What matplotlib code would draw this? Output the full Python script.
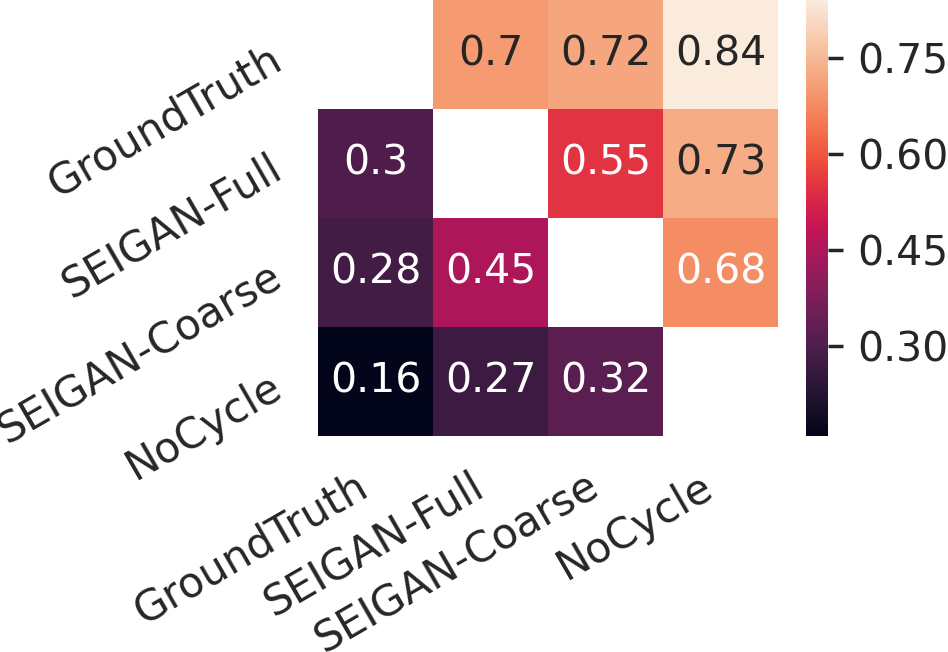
import numpy as np
import matplotlib
matplotlib.use("Agg")
import matplotlib.pyplot as plt
import seaborn as sns

# %%
labels = ["GroundTruth", "SEIGAN-Full", "SEIGAN-Coarse", "NoCycle"]
row_groundtruth = [np.nan, 0.70, 0.72, 0.84]
row_full = [0.30, np.nan, 0.55, 0.73]
row_coarse = [0.28, 0.45, np.nan, 0.68]
row_nocycle = [0.16, 0.27, 0.32, np.nan]
cbar_ticks = [0.30, 0.45, 0.60, 0.75]

scores = np.array([row_groundtruth, row_full, row_coarse, row_nocycle])
mask = np.isnan(scores)

# %%
sns.set_theme(context="poster", style="white")
plt.rcParams["font.family"] = ["DejaVu Sans"]
fs = 29.5
fs_ticks = 30.3

fig = plt.figure(figsize=(9.48, 6.52), dpi=100)
ax = fig.add_axes([318 / 948, 216 / 652, 460 / 948, 436 / 652])
cax = fig.add_axes([806 / 948, 216 / 652, 22 / 948, 436 / 652])

sns.heatmap(scores, mask=mask, annot=True, annot_kws={"size": fs},
            xticklabels=labels, yticklabels=labels, ax=ax, cbar_ax=cax)

ax.set_xticklabels(labels, rotation=30, ha="right", va="top",
                   rotation_mode="default", fontsize=fs_ticks)
ax.set_yticklabels(labels, rotation=30, ha="right", va="center_baseline",
                   rotation_mode="default", fontsize=fs_ticks)
ax.tick_params(axis="both", length=0, pad=21)
cax.set_yticks(cbar_ticks)
cax.tick_params(labelsize=fs, pad=10, length=11)

fig.savefig("out.png", dpi=100)
